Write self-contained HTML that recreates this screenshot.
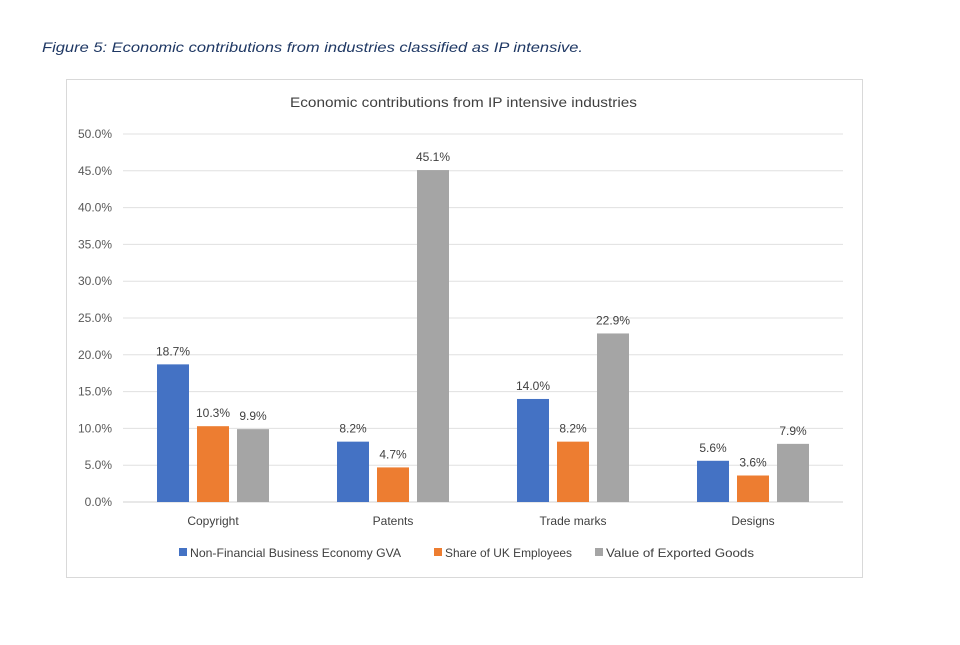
<!DOCTYPE html>
<html><head><meta charset="utf-8"><style>
body{margin:0;background:#fff;width:960px;height:640px;overflow:hidden;font-family:"Liberation Sans",sans-serif}
</style></head><body>
<svg width="960" height="640" xmlns="http://www.w3.org/2000/svg">
<text x="42" y="52" font-size="14" font-style="italic" fill="#1f3864" textLength="541" lengthAdjust="spacingAndGlyphs">Figure 5: Economic contributions from industries classified as IP intensive.</text>
<rect x="66.5" y="79.5" width="796" height="498" fill="#fff" stroke="#d9d9d9"/>
<text x="290" y="107" font-size="14" fill="#404040" textLength="347" lengthAdjust="spacingAndGlyphs">Economic contributions from IP intensive industries</text>
<g id="grid"></g><g id="bars"></g><g id="legend"></g>
</svg>
<script>
const categories=["Copyright","Patents","Trade marks","Designs"];
const seriesNames=["Non-Financial Business Economy GVA","Share of UK Employees","Value of Exported Goods"];
const gva=[18.7,8.2,14.0,5.6];
const employees=[10.3,4.7,8.2,3.6];
const exportsV=[9.9,45.1,22.9,7.9];
const ticks=[0,5,10,15,20,25,30,35,40,45,50];
const colors=["#4472c4","#ed7d31","#a5a5a5"];
const NS="http://www.w3.org/2000/svg";
const x0=123,x1=843,y0=502,y50=134;
const y=v=>y0-(v/50)*(y0-y50);
const band=(x1-x0)/categories.length;
function mk(t,a,p){const e=document.createElementNS(NS,t);for(const k in a)e.setAttribute(k,a[k]);p.appendChild(e);return e;}
const grid=document.getElementById('grid'),bars=document.getElementById('bars'),leg=document.getElementById('legend');
ticks.forEach(t=>{
 const l=mk('line',{x1:x0,x2:x1,y1:y(t),y2:y(t),stroke:t===0?'#d0d0d0':'#e0e0e0','stroke-width':1},grid);
 
 
 const tx=mk('text',{x:112,y:y(t)+4,'font-size':12,'text-anchor':'end',fill:'#595959'},grid);
 tx.textContent=t.toFixed(1)+'%';
 
 
});
const series=[gva,employees,exportsV];
categories.forEach((c,i)=>{
 const cx=x0+band*(i+0.5);
 const ct=mk('text',{x:cx,y:525,'font-size':12,'text-anchor':'middle',fill:'#404040'},grid);
 ct.textContent=c;
 
 
 series.forEach((s,j)=>{
  const bx=cx-56+j*40;
  const r=mk('rect',{x:bx,y:y(s[i]),width:32,height:y0-y(s[i]),fill:colors[j]},bars);
  
  
  const lt=mk('text',{x:bx+16,y:y(s[i])-9,'font-size':12,'text-anchor':'middle',fill:'#404040'},bars);
  lt.textContent=s[i].toFixed(1)+'%';
  
  
 });
});
const lx=[179,434,595];
const lw=[211,127,148];
seriesNames.forEach((n,j)=>{
 const r=mk('rect',{x:lx[j],y:548,width:8,height:8,fill:colors[j]},leg);
 
 
 const t=mk('text',{x:lx[j]+11,y:557,'font-size':12,fill:'#404040',textLength:lw[j],lengthAdjust:'spacingAndGlyphs'},leg);
 t.textContent=n;
 
 
});
</script>
</body></html>
